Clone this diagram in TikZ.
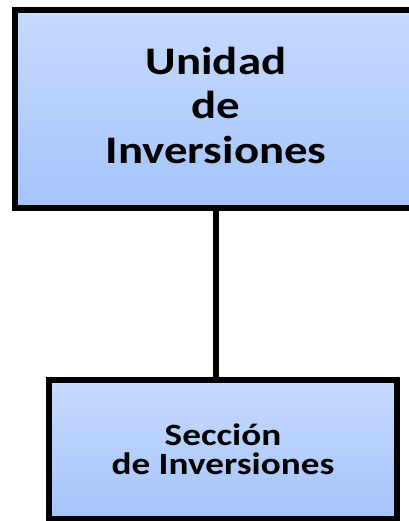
\documentclass[tikz,border=0pt]{standalone}
\usepackage{fontspec}
\newfontfamily\boxfont[FakeStretch=1.2]{Carlito}
\usetikzlibrary{positioning}

\begin{document}
\begin{tikzpicture}
[x=1pt, y=-1pt,
 unitbox/.style = {draw=black, line width=5.5pt, rectangle, align=center,
   top color=boxtop, bottom color=boxbottom, inner sep=0pt,
   font=\boxfont\bfseries}]

% Define box colors
\definecolor{boxtop}{RGB}{199,218,255}
\definecolor{boxbottom}{RGB}{164,196,250}

\useasboundingbox (0,0) rectangle (408,521);

%%%%%%%%%%% UNIDAD
  \node[unitbox, minimum width=402pt, minimum height=198pt, text depth=8pt,
    font=\boxfont\bfseries\fontsize{39}{44.5}\selectfont] (unidad) at (216,109)
    {Unidad\\de\\Inversiones};

%%%%%%%%%%% SECCION
  \node[unitbox, minimum width=348pt, minimum height=139pt,
    font=\boxfont\bfseries\fontsize{31}{29}\selectfont] (seccion) at (223,449.5)
    {Sección\\de Inversiones};

%%%%%%%%%%% CONNECTION
  \draw[line width=5.5pt] (unidad.south) -- (unidad.south |- seccion.north);

\end{tikzpicture}
\end{document}
